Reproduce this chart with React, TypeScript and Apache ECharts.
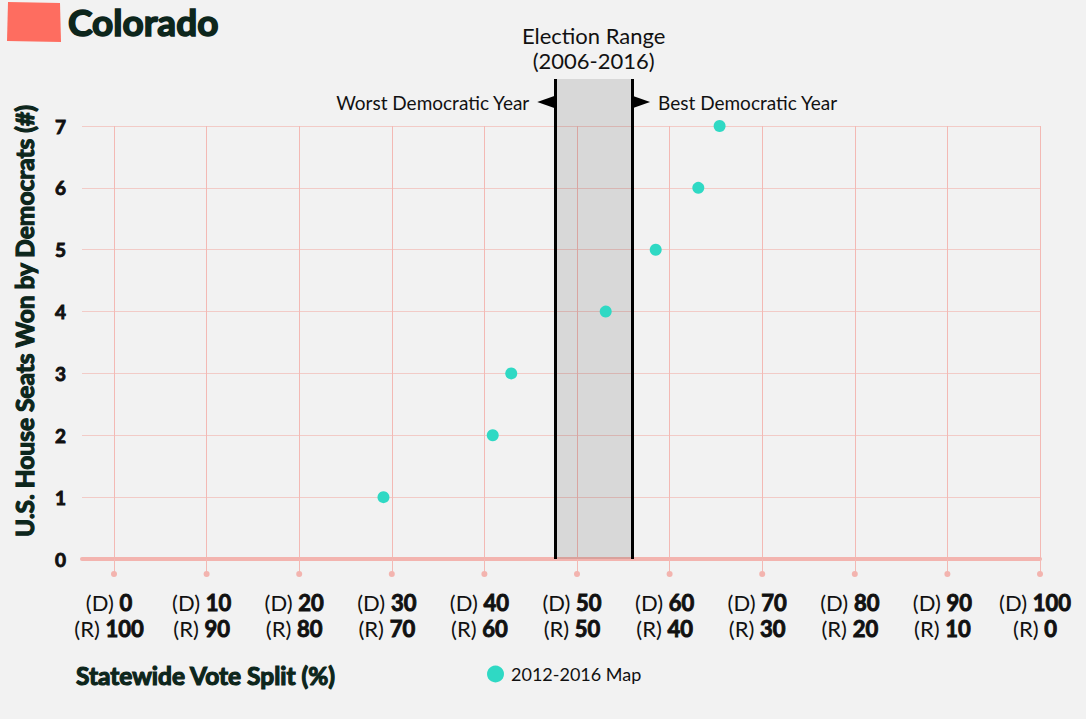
import React, { useEffect, useRef } from "react";
import * as echarts from "echarts";

// ---- data ----
const xTicks = [0, 10, 20, 30, 40, 50, 60, 70, 80, 90, 100];
const demTickLabels = ["0", "10", "20", "30", "40", "50", "60", "70", "80", "90", "100"];
const repTickLabels = ["100", "90", "80", "70", "60", "50", "40", "30", "20", "10", "0"];
const yTicks = [0, 1, 2, 3, 4, 5, 6, 7];

const seriesName = "2012-2016 Map";
const voteShare = [29.1, 40.9, 42.9, 53.1, 58.5, 63.1, 65.4];
const seatsWon = [1, 2, 3, 4, 5, 6, 7];

const electionRangeLabel = "Election Range\n(2006-2016)";
const worstDemYear = 47.6;
const bestDemYear = 56.0;
const worstLabel = "Worst Democratic Year";
const bestLabel = "Best Democratic Year";

const stateName = "Colorado";
const xTitle = "Statewide Vote Split (%)";
const yTitle = "U.S. House Seats Won by Democrats (#)";

// ---- styles ----
const FONT = "Lato, 'Open Sans', sans-serif";
const DARK = "#0d261c";
const H_GRID = "#f2cbc7";
const V_GRID = "#f3b9b4";
const AXIS_COLOR = "#f3b4af";
const TEAL = "#2fd9c4";

export default function App() {
  const ref = useRef<HTMLDivElement>(null);

  useEffect(() => {
    document.body.style.margin = "0";
    document.body.style.background = "#f2f2f2";
    if (!ref.current) return;
    const chart = echarts.init(ref.current, undefined, { renderer: "svg" });

    const points = voteShare.map((v, i) => [v, seatsWon[i]]);
    const arrowY = 0.952;

    const option: any = {
      animation: false,
      backgroundColor: "#f2f2f2",
      textStyle: { fontFamily: FONT },
      graphic: [
        {
          type: "polygon",
          shape: { points: [[8, 2], [60, 3], [61, 42], [7, 41]] },
          style: { fill: "#fe6d60" },
        },
        {
          type: "text",
          x: 68,
          y: 21,
          style: {
            text: stateName,
            font: `bold 37px ${FONT}`,
            fill: DARK,
            stroke: DARK,
            lineWidth: 1.6,
            textAlign: "left",
            textVerticalAlign: "middle",
          },
        },
        {
          type: "text",
          x: 24,
          y: 321,
          rotation: Math.PI / 2,
          style: {
            text: yTitle,
            font: `bold 24.5px ${FONT}`,
            fill: DARK,
            stroke: DARK,
            lineWidth: 1.2,
            textAlign: "center",
            textVerticalAlign: "middle",
          },
        },
        {
          type: "text",
          x: 76,
          y: 675,
          style: {
            text: xTitle,
            font: `bold 24.5px ${FONT}`,
            fill: DARK,
            stroke: DARK,
            lineWidth: 1.2,
            textAlign: "left",
            textVerticalAlign: "middle",
          },
        },
      ],
      legend: {
        data: [seriesName],
        left: 487,
        top: 665,
        padding: 0,
        icon: "circle",
        itemWidth: 17,
        itemHeight: 17,
        itemGap: 10,
        textStyle: { fontFamily: FONT, fontSize: 18, color: "#111", padding: [0, 0, 0, 2] },
        selectedMode: false,
      },
      grid: [
        { left: 82, right: 46, top: 126, bottom: 160 },
        { left: 114, right: 46, top: 126, bottom: 160 },
        { left: 114, right: 46, top: 79, bottom: 160 },
      ],
      xAxis: [
        {
          gridIndex: 0,
          type: "value",
          min: 0,
          max: 1,
          axisLine: { show: true, lineStyle: { color: AXIS_COLOR, width: 4 } },
          axisTick: { show: false },
          axisLabel: { show: false },
          splitLine: { show: false },
        },
        {
          gridIndex: 1,
          type: "value",
          min: 0,
          max: 100,
          interval: 10,
          axisLine: { show: false },
          axisTick: { show: true, length: 15, lineStyle: { color: V_GRID, width: 1 } },
          splitLine: { show: true, lineStyle: { color: V_GRID, width: 1 } },
          axisLabel: {
            margin: 12,
            formatter: (v: number) => {
              const i = xTicks.indexOf(v);
              if (i < 0) return "";
              return `{dot| }\n{sp| }\n{d|(D) }{n|${demTickLabels[i]}}{pad| }\n{d|(R) }{n|${repTickLabels[i]}}{pad| }`;
            },
            rich: {
              dot: { width: 6, height: 6, lineHeight: 6, backgroundColor: AXIS_COLOR, borderRadius: 3 },
              sp: { height: 12, lineHeight: 12, fontSize: 4 },
              pad: { width: 10, fontSize: 4 },
              d: { fontFamily: FONT, fontSize: 22, color: "#111", lineHeight: 26 },
              n: {
                fontFamily: FONT,
                fontSize: 22,
                fontWeight: "bold",
                color: "#111",
                lineHeight: 26,
                textBorderColor: "#111",
                textBorderWidth: 0.9,
              },
            },
          },
        },
        { gridIndex: 2, type: "value", min: 0, max: 100, show: false },
      ],
      yAxis: [
        {
          gridIndex: 0,
          type: "value",
          min: 0,
          max: 7,
          interval: 1,
          axisLine: { show: false },
          axisTick: { show: false },
          splitLine: { show: true, lineStyle: { color: H_GRID, width: 1 } },
          axisLabel: {
            margin: 16,
            fontFamily: FONT,
            fontSize: 19,
            fontWeight: "bold",
            color: "#111",
            textBorderColor: "#111",
            textBorderWidth: 0.9,
            formatter: (v: number) => (yTicks.indexOf(v) >= 0 ? String(v) : ""),
          },
        },
        { gridIndex: 1, type: "value", min: 0, max: 7, show: false },
        { gridIndex: 2, type: "value", min: 0, max: 1, show: false },
      ],
      series: [
        {
          name: "Election Range",
          type: "scatter",
          xAxisIndex: 2,
          yAxisIndex: 2,
          data: [],
          z: 2,
          silent: true,
          markArea: {
            silent: true,
            itemStyle: { color: "rgba(0,0,0,0.105)" },
            label: {
              show: true,
              position: "top",
              distance: 6,
              fontFamily: FONT,
              fontSize: 22,
              lineHeight: 25,
              color: "#111",
            },
            data: [[{ name: electionRangeLabel, xAxis: worstDemYear }, { xAxis: bestDemYear }]],
          },
          markLine: {
            silent: true,
            symbol: ["none", "none"],
            label: { show: false },
            lineStyle: { color: "#000", width: 3, type: "solid" },
            data: [{ xAxis: worstDemYear }, { xAxis: bestDemYear }],
          },
          markPoint: {
            silent: true,
            symbol: "triangle",
            symbolSize: [12, 17],
            itemStyle: { color: "#000" },
            label: {
              show: true,
              fontFamily: FONT,
              fontSize: 19,
              color: "#111",
              distance: 8,
            },
            data: [
              {
                name: worstLabel,
                coord: [worstDemYear, arrowY],
                symbolRotate: 90,
                symbolOffset: [-9, 0],
                label: { position: "left", formatter: worstLabel },
              },
              {
                name: bestLabel,
                coord: [bestDemYear, arrowY],
                symbolRotate: -90,
                symbolOffset: [9, 0],
                label: { position: "right", formatter: bestLabel },
              },
            ],
          },
        },
        {
          name: seriesName,
          type: "scatter",
          xAxisIndex: 1,
          yAxisIndex: 1,
          data: points,
          symbol: "circle",
          symbolSize: 12,
          z: 5,
          itemStyle: { color: TEAL, opacity: 1 },
        },
      ],
    };

    chart.setOption(option);
    return () => chart.dispose();
  }, []);

  return <div ref={ref} style={{ width: 1086, height: 719, background: "#f2f2f2" }} />;
}
